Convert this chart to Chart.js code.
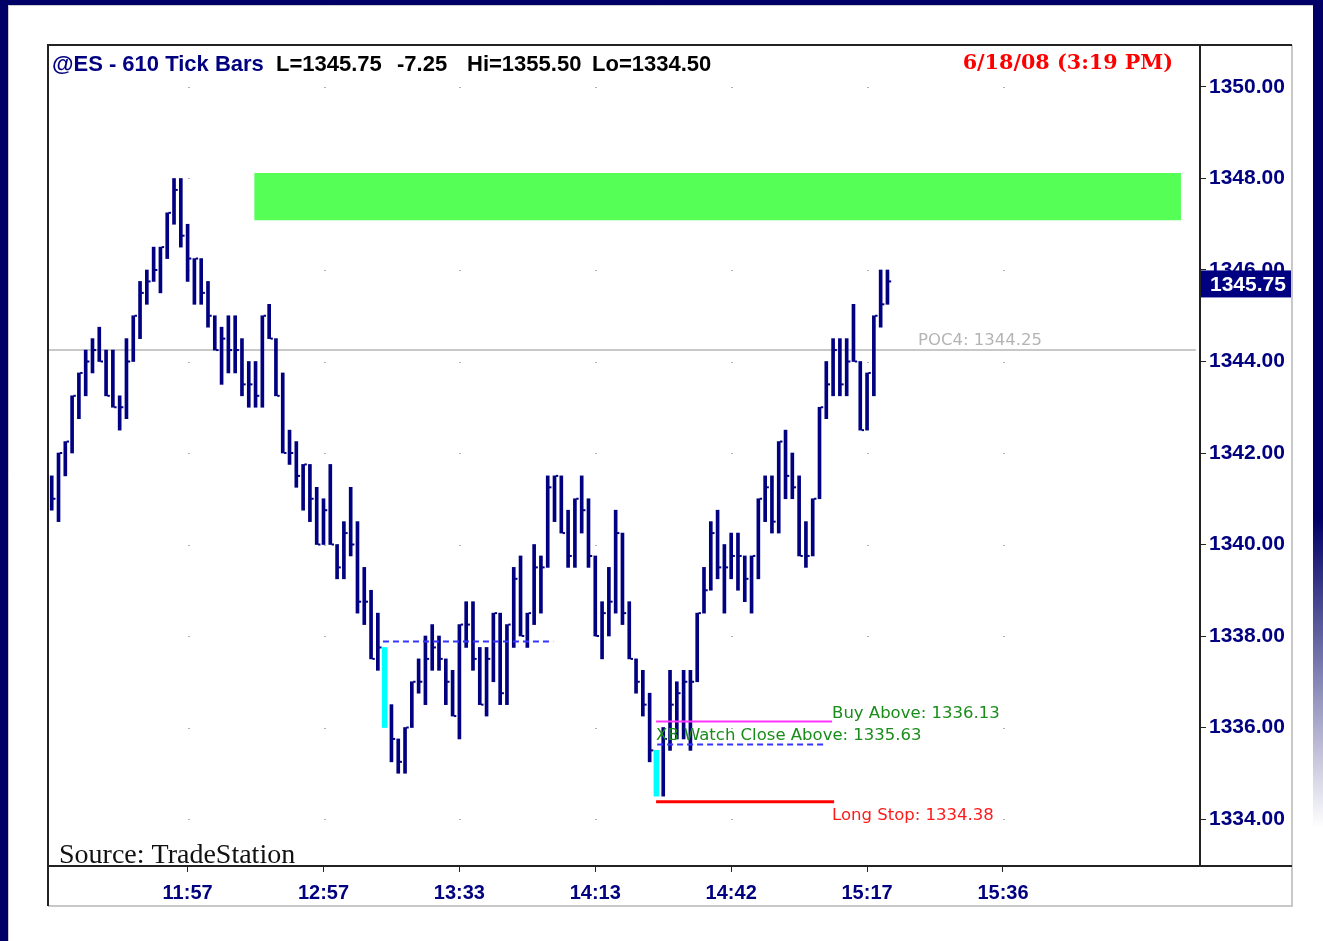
<!DOCTYPE html>
<html>
<head>
<meta charset="utf-8">
<title>@ES - 610 Tick Bars</title>
<script src="https://cdn.jsdelivr.net/npm/chart.js@4.4.1/dist/chart.umd.min.js"></script>
<style>
  html, body { margin: 0; padding: 0; background: #ffffff; }
  canvas { display: block; }
</style>
</head>
<body>
<canvas id="chart" width="1323" height="941"></canvas>
<script>
// One entry per 610-tick bar (bar 0 = left edge)
const highs = [
  1341.5, 1342, 1342.25, 1343.25, 1343.75, 1344.25, 1344.5, 1344.75, 1344.25, 1344.25,
  1343.25, 1344.5, 1345, 1345.75, 1346, 1346.5, 1346.5, 1347.25, 1348, 1348,
  1347, 1346.25, 1346.25, 1345.75, 1345, 1344.75, 1345, 1345, 1344.5, 1344,
  1344, 1345, 1345.25, 1344.5, 1343.75, 1342.5, 1342.25, 1341.75, 1341.75, 1341.25,
  1341, 1341.75, 1340, 1340.5, 1341.25, 1340.5, 1339.5, 1339, 1338.5, 1337.75,
  1336.5, 1335.75, 1336, 1337, 1337.5, 1338, 1338.25, 1338, 1337.5, 1337.25,
  1338.25, 1338.75, 1338.75, 1337.75, 1337.75, 1338.5, 1338.5, 1338.25, 1339.5, 1339.75,
  1338.5, 1340, 1339.75, 1341.5, 1341.5, 1341.5, 1340.75, 1341, 1341.5, 1341,
  1339.75, 1338.75, 1339.5, 1340.75, 1340.25, 1338.75, 1337.5, 1337.25, 1336.75, 1335.5,
  1336, 1337.25, 1337, 1337.25, 1337.25, 1338.5, 1339.5, 1340.5, 1340.75, 1340,
  1340.25, 1340.25, 1339.75, 1339.75, 1341, 1341.5, 1341.5, 1342.25, 1342.5, 1342,
  1341.5, 1340.5, 1341, 1343, 1344, 1344.5, 1344.5, 1344.5, 1345.25, 1344,
  1343.75, 1345, 1346, 1346
];
const lows = [
  1340.75, 1340.5, 1341.5, 1342, 1342.75, 1343.25, 1343.75, 1344, 1343.25, 1343,
  1342.5, 1342.75, 1344, 1344.5, 1345.25, 1345.75, 1345.5, 1346.25, 1347, 1346.5,
  1345.75, 1345.25, 1345.25, 1344.75, 1344.25, 1343.5, 1343.75, 1343.75, 1343.25, 1343,
  1343, 1343, 1344.5, 1343.25, 1342, 1341.75, 1341.25, 1340.75, 1340.5, 1340,
  1340, 1340, 1339.25, 1339.25, 1339.75, 1338.5, 1338.25, 1337.5, 1337.25, 1336,
  1335.25, 1335, 1335, 1336, 1336.75, 1336.5, 1337.25, 1337.25, 1336.5, 1336.25,
  1335.75, 1337.75, 1337.25, 1336.5, 1336.25, 1337, 1336.5, 1336.5, 1337.75, 1338,
  1337.75, 1338.25, 1338.5, 1339.5, 1340.5, 1340.25, 1339.5, 1339.5, 1340.25, 1339.5,
  1338, 1337.5, 1338, 1338.5, 1338.25, 1337.5, 1336.75, 1336.25, 1335.25, 1334.5,
  1334.5, 1335.5, 1335.75, 1335.75, 1335.5, 1337, 1338.5, 1339, 1339.25, 1338.5,
  1339.25, 1339, 1338.75, 1338.5, 1339.25, 1340.5, 1340.25, 1340.25, 1341, 1341,
  1339.75, 1339.5, 1339.75, 1341, 1342.75, 1343.25, 1343.25, 1343.25, 1344, 1342.5,
  1342.5, 1343.25, 1344.75, 1345.25
];
const closes = [
  1341, 1342, 1342.25, 1343.25, 1343.75, 1344, 1344.25, 1344, 1343.25, 1343,
  1343, 1344, 1345, 1345.5, 1345.75, 1346, 1346.5, 1347.25, 1347.75, 1346.75,
  1346.25, 1346.25, 1345.5, 1345, 1344.25, 1344.5, 1344.25, 1344.25, 1343.5, 1343.5,
  1343.25, 1345, 1344.5, 1343.25, 1342, 1342, 1341.5, 1341.75, 1341, 1340,
  1340.75, 1340, 1339.5, 1340.25, 1340, 1338.75, 1338.75, 1337.5, 1337.75, 1336,
  1335.75, 1335.25, 1336, 1337, 1337, 1337.5, 1337.75, 1337.5, 1337, 1336.25,
  1338.25, 1338.25, 1337.5, 1336.5, 1337.5, 1338.5, 1336.75, 1338.25, 1339.25, 1338,
  1338.5, 1339.5, 1339.5, 1341.25, 1341.5, 1340.25, 1339.75, 1341, 1340.75, 1339.75,
  1338, 1338.5, 1338.75, 1340.25, 1338.5, 1337.5, 1337, 1336.5, 1335.5, 1334.75,
  1335.75, 1336.5, 1336.75, 1337, 1337, 1338.5, 1339, 1340.25, 1339.5, 1339.5,
  1339.75, 1339.75, 1339.25, 1339.75, 1341, 1341.25, 1340.5, 1342.25, 1341.5, 1341.25,
  1339.75, 1339.75, 1341, 1343, 1343.5, 1344.25, 1343.5, 1344, 1344, 1342.5,
  1343.75, 1345, 1345.25, 1345.75
];
// setup bars painted cyan
const cyanBars = [49, 89];

// x axis: time labels sit under these bar numbers
const timeTickBars = [20, 40, 60, 80, 100, 120, 140];
const timeLabels = ['11:57', '12:57', '13:33', '14:13', '14:42', '15:17', '15:36'];
const priceTicks = [1334, 1336, 1338, 1340, 1342, 1344, 1346, 1348, 1350];

// levels (price) and the bar span they cover
const pocLevel = 1344.25;
const zoneTop = 1348.12, zoneBottom = 1347.09, zoneFrom = 29.8, zoneTo = 166.2;
const xbLevel = 1337.88, xbFrom = 48.75, xbTo = 73.8;
const buyAbove = 1336.13, buyFrom = 88.95, buyTo = 114.85;
const watchClose = 1335.63, watchFrom = 89.1, watchTo = 113.8;
const longStop = 1334.38, stopFrom = 88.95, stopTo = 115.15;
const lastPrice = closes[closes.length - 1];

const headerSymbol = '@ES - 610 Tick Bars';
const headerParts = ['L=' + lastPrice.toFixed(2), '-7.25', 'Hi=1355.50', 'Lo=1334.50'];
const dateText = '6/18/08 (3:19 PM)';

const NAVY = '#000080';
const xMin = -0.4, xMax = 169;
const yMin = 1332.973, yMax = 1350.896;

const idx = highs.map((_, i) => i);
const barData = idx.filter(i => !cyanBars.includes(i)).map(i => ({ x: i, y: [lows[i], highs[i]] }));
const cyanData = cyanBars.map(i => ({ x: i, y: [lows[i], highs[i]] }));
const closeData = idx.filter(i => !cyanBars.includes(i)).map(i => ({ x: i + 0.37, y: closes[i] }));

function level(from, to, y) {
    return [{ x: from, y: y }, { x: to, y: y }];
}

// frame, grid dots and all the text on top
const decor = {
    id: 'decor',
    beforeDraw(chart) {
        const ctx = chart.ctx;
        ctx.save();
        ctx.fillStyle = '#000066';
        ctx.fillRect(0, 0, 1323, 941);
        ctx.fillStyle = '#ffffff';
        ctx.fillRect(8, 5, 1315, 936);
        // right edge fades from navy to white
        const g = ctx.createLinearGradient(0, 0, 0, 941);
        g.addColorStop(0, '#000066');
        g.addColorStop(0.55, '#000066');
        g.addColorStop(0.88, '#ffffff');
        ctx.fillStyle = g;
        ctx.fillRect(1313, 0, 10, 941);
        ctx.strokeStyle = '#cccccc';
        ctx.lineWidth = 1;
        ctx.beginPath();
        ctx.moveTo(8.5, 941); ctx.lineTo(8.5, 5.5); ctx.lineTo(1313, 5.5);
        ctx.stroke();

        ctx.strokeStyle = '#c8c8c8';
        ctx.lineWidth = 2;
        ctx.beginPath();
        ctx.moveTo(1292, 45); ctx.lineTo(1292, 906); ctx.lineTo(48, 906);
        ctx.stroke();
        ctx.strokeStyle = '#222222';
        ctx.beginPath();
        ctx.moveTo(48, 906); ctx.lineTo(48, 45); ctx.lineTo(1292, 45);
        ctx.stroke();
        ctx.restore();
    },
    beforeDatasetsDraw(chart) {
        const ctx = chart.ctx;
        const xs = chart.scales.x, ys = chart.scales.y;
        ctx.save();
        ctx.fillStyle = '#b0b0b0';
        timeTickBars.forEach(t => {
            priceTicks.forEach(p => {
                ctx.fillRect(Math.round(xs.getPixelForValue(t)), Math.round(ys.getPixelForValue(p)), 2, 1);
            });
        });
        ctx.restore();
    },
    afterDraw(chart) {
        const ctx = chart.ctx;
        const xs = chart.scales.x, ys = chart.scales.y;
        ctx.save();

        // x axis line runs on under the price axis
        ctx.strokeStyle = '#222222';
        ctx.lineWidth = 2;
        ctx.beginPath();
        ctx.moveTo(1200, 866); ctx.lineTo(1292, 866);
        ctx.stroke();

        ctx.textBaseline = 'alphabetic';
        ctx.font = 'bold 22px "Liberation Sans", Arial, sans-serif';
        ctx.fillStyle = NAVY;
        ctx.fillText(headerSymbol, 52, 71);
        ctx.fillStyle = '#000000';
        const partX = [276, 397, 467, 592];
        headerParts.forEach((s, i) => ctx.fillText(s, partX[i], 71));

        ctx.font = 'bold 20.7px "DejaVu Serif", Georgia, serif';
        ctx.fillStyle = '#ff0000';
        ctx.textAlign = 'right';
        ctx.fillText(dateText, 1173, 69);
        ctx.textAlign = 'left';

        ctx.font = '28px "Liberation Serif", "Times New Roman", serif';
        ctx.fillStyle = '#111111';
        ctx.fillText('Source: TradeStation', 59, 863);

        ctx.font = '16.5px "DejaVu Sans", Tahoma, sans-serif';
        ctx.fillStyle = '#b4b4b4';
        ctx.fillText('POC4: ' + pocLevel.toFixed(2), 918, ys.getPixelForValue(pocLevel) - 5);

        ctx.fillStyle = '#1a8c1a';
        ctx.fillText('Buy Above: ' + buyAbove.toFixed(2), xs.getPixelForValue(buyTo), ys.getPixelForValue(buyAbove) - 4);
        ctx.fillText('XB Watch Close Above: ' + watchClose.toFixed(2), xs.getPixelForValue(watchFrom) - 1, ys.getPixelForValue(watchClose) - 4);
        ctx.fillStyle = '#ff1a1a';
        ctx.fillText('Long Stop: ' + longStop.toFixed(2), xs.getPixelForValue(buyTo), ys.getPixelForValue(longStop) + 18);

        // last price marker on the axis
        const py = ys.getPixelForValue(lastPrice);
        ctx.fillStyle = NAVY;
        ctx.fillRect(1201, py - 11, 90, 27);
        ctx.fillStyle = '#ffffff';
        ctx.font = 'bold 21px "Liberation Sans", Arial, sans-serif';
        ctx.fillText(lastPrice.toFixed(2), 1210, py + 10);
        ctx.restore();
    }
};

const axisFont = { family: '"Liberation Sans", Arial, sans-serif', weight: 'bold' };

new Chart(document.getElementById('chart').getContext('2d'), {
    type: 'bar',
    data: {
        datasets: [
            {
                type: 'bar', data: barData, backgroundColor: NAVY,
                barThickness: 3, grouped: false, borderWidth: 0, order: 1
            },
            {
                type: 'bar', data: cyanData, backgroundColor: '#00ffff',
                barThickness: 5, grouped: false, borderWidth: 0, order: 1
            },
            {
                type: 'line', data: closeData, showLine: false, pointStyle: 'line',
                pointRadius: 1.2, pointBorderWidth: 2, pointBorderColor: NAVY, order: 1
            },
            {
                type: 'line', data: level(xbFrom, xbTo, xbLevel), borderColor: '#3535ff',
                borderWidth: 2, borderDash: [6, 4], pointRadius: 0, order: 0
            },
            {
                type: 'line', data: level(buyFrom, buyTo, buyAbove), borderColor: '#ff33ff',
                borderWidth: 2, pointRadius: 0, order: 0
            },
            {
                type: 'line', data: level(watchFrom, watchTo, watchClose), borderColor: '#3535ff',
                borderWidth: 2, borderDash: [6, 4], pointRadius: 0, order: 0
            },
            {
                type: 'line', data: level(stopFrom, stopTo, longStop), borderColor: '#ff0000',
                borderWidth: 3, pointRadius: 0, order: 0
            },
            {
                type: 'line', data: level(xMin, 168.4, pocLevel), borderColor: '#c8c8c8',
                borderWidth: 2, pointRadius: 0, order: 5
            },
            {
                type: 'line', data: level(zoneFrom, zoneTo, zoneTop), borderWidth: 0,
                borderColor: 'rgba(0,0,0,0)', backgroundColor: '#55ff55',
                fill: { value: zoneBottom }, pointRadius: 0, order: 6
            }
        ]
    },
    options: {
        responsive: false,
        animation: false,
        events: [],
        devicePixelRatio: 1,
        layout: { padding: { left: 49, top: 46, right: 31, bottom: 35 } },
        plugins: {
            legend: { display: false },
            tooltip: { enabled: false }
        },
        scales: {
            x: {
                type: 'linear', min: xMin, max: xMax, offset: false,
                afterBuildTicks: s => { s.ticks = timeTickBars.map(v => ({ value: v })); },
                afterFit: s => { s.height = 40; },
                grid: { drawOnChartArea: false, offset: false, tickLength: 6, color: '#222222' },
                border: { color: '#222222', width: 2 },
                ticks: {
                    color: NAVY, font: Object.assign({ size: 20 }, axisFont),
                    padding: 9, maxRotation: 0, autoSkip: false,
                    callback: v => timeLabels[timeTickBars.indexOf(v)]
                }
            },
            y: {
                type: 'linear', position: 'right', min: yMin, max: yMax,
                afterBuildTicks: s => { s.ticks = priceTicks.map(v => ({ value: v })); },
                afterFit: s => { s.width = 92; },
                grid: { drawOnChartArea: false, tickLength: 6, color: '#222222' },
                border: { color: '#222222', width: 2 },
                ticks: {
                    color: NAVY, font: Object.assign({ size: 21 }, axisFont),
                    padding: 3, crossAlign: 'near',
                    callback: v => v.toFixed(2)
                }
            }
        }
    },
    plugins: [decor]
});
</script>
</body>
</html>
